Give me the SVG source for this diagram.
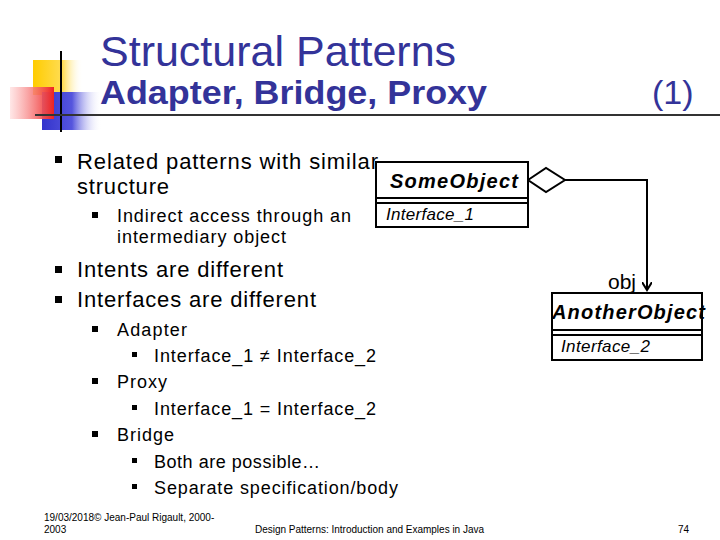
<svg xmlns="http://www.w3.org/2000/svg" width="720" height="540" viewBox="0 0 720 540">
<defs>
<linearGradient id="gy" x1="0" x2="1"><stop offset="0" stop-color="#ffcc00"/><stop offset="0.6" stop-color="#ffdd55"/><stop offset="1" stop-color="#fff" stop-opacity="0"/></linearGradient>
<linearGradient id="gb" x1="0" x2="1"><stop offset="0" stop-color="#3333cc"/><stop offset="0.5" stop-color="#5555dd"/><stop offset="1" stop-color="#fff" stop-opacity="0"/></linearGradient>
<linearGradient id="gr" x1="1" x2="0"><stop offset="0" stop-color="#ee2222"/><stop offset="1" stop-color="#ffdddd" stop-opacity="0.7"/></linearGradient>
<marker id="arr" markerWidth="10" markerHeight="10" refX="8" refY="5" orient="auto" markerUnits="userSpaceOnUse"><path d="M0,0 L8,5 L0,10" fill="none" stroke="#000" stroke-width="2"/></marker>
</defs>
<style>
.t{font-family:"Liberation Sans",Arial,sans-serif;fill:#000}
.ti{font-family:"Liberation Sans",Arial,sans-serif;fill:#333399}
.box{fill:#fff;stroke:#000;stroke-width:2}
.l1{font-size:22px}
.l2{font-size:18px}
</style>
<rect width="720" height="540" fill="#fff"/>
<g id="logo">
<rect x="33" y="60" width="50" height="35" fill="url(#gy)"/>
<rect x="42" y="92" width="60" height="38" fill="url(#gb)"/>
<rect x="10" y="87" width="44" height="32" fill="url(#gr)"/>
<line x1="61" y1="51" x2="61" y2="132" stroke="#000" stroke-width="2"/>
<line x1="35" y1="115" x2="720" y2="115" stroke="#333" stroke-width="2"/>
</g>
<text class="ti" x="100" y="66" font-size="43">Structural Patterns</text>
<text class="ti" x="100" y="104" font-size="34" font-weight="bold" textLength="387" lengthAdjust="spacingAndGlyphs">Adapter, Bridge, Proxy</text>
<text class="ti" x="652" y="104" font-size="34">(1)</text>
<g>
<rect x="55" y="156" width="7" height="7"/>
<text class="t l1" x="77" y="169" textLength="301">Related patterns with similar</text>
<text class="t l1" x="77" y="194" textLength="92">structure</text>
<rect x="92" y="212" width="6" height="6"/>
<text class="t l2" x="117" y="222" textLength="234">Indirect access through an</text>
<text class="t l2" x="117" y="243" textLength="169">intermediary object</text>
<rect x="55" y="266" width="7" height="7"/>
<text class="t l1" x="77" y="277" textLength="206">Intents are different</text>
<rect x="55" y="296" width="7" height="7"/>
<text class="t l1" x="77" y="307" textLength="239">Interfaces are different</text>
<rect x="92" y="326" width="6" height="6"/>
<text class="t l2" x="117" y="336" textLength="70">Adapter</text>
<rect x="132" y="352" width="5" height="5"/>
<text class="t l2" x="154" y="362" textLength="222">Interface_1 ≠ Interface_2</text>
<rect x="92" y="378" width="6" height="6"/>
<text class="t l2" x="117" y="388" textLength="50">Proxy</text>
<rect x="132" y="405" width="5" height="5"/>
<text class="t l2" x="154" y="415" textLength="222">Interface_1 = Interface_2</text>
<rect x="92" y="431" width="6" height="6"/>
<text class="t l2" x="117" y="441" textLength="57">Bridge</text>
<rect x="132" y="458" width="5" height="5"/>
<text class="t l2" x="154" y="468" textLength="166">Both are possible…</text>
<rect x="132" y="484" width="5" height="5"/>
<text class="t l2" x="154" y="494" textLength="244">Separate specification/body</text>
</g>
<g id="connectors">
<polyline points="565,180 647,180 647,290" fill="none" stroke="#000" stroke-width="2" marker-end="url(#arr)"/>
<polygon points="528,180 546,168 565,180 546,192" fill="#fff" stroke="#000" stroke-width="2"/>
<text class="t" x="608" y="289" font-size="21">obj</text>
</g>
<g id="SomeObject">
<rect class="box" x="376" y="162" width="152" height="65"/>
<line x1="376" y1="198" x2="528" y2="198" stroke="#000" stroke-width="2"/>
<line x1="376" y1="203" x2="528" y2="203" stroke="#000" stroke-width="2"/>
<text class="t" x="390" y="188" font-size="20" font-weight="bold" font-style="italic" textLength="128">SomeObject</text>
<text class="t" x="386" y="220" font-size="17" font-style="italic" textLength="88">Interface_1</text>
</g>
<g id="AnotherObject">
<rect class="box" x="552" y="293" width="150" height="67"/>
<line x1="552" y1="330" x2="702" y2="330" stroke="#000" stroke-width="2"/>
<line x1="552" y1="335" x2="702" y2="335" stroke="#000" stroke-width="2"/>
<text class="t" x="552" y="319" font-size="20" font-weight="bold" font-style="italic" textLength="153">AnotherObject</text>
<text class="t" x="561" y="352" font-size="17" font-style="italic" textLength="89">Interface_2</text>
</g>
<text class="t" x="44" y="521" font-size="10">19/03/2018© Jean-Paul Rigault, 2000-</text>
<text class="t" x="44" y="533" font-size="10">2003</text>
<text class="t" x="255" y="533" font-size="10" textLength="229">Design Patterns: Introduction and Examples in Java</text>
<text class="t" x="678" y="533" font-size="10">74</text>
</svg>
